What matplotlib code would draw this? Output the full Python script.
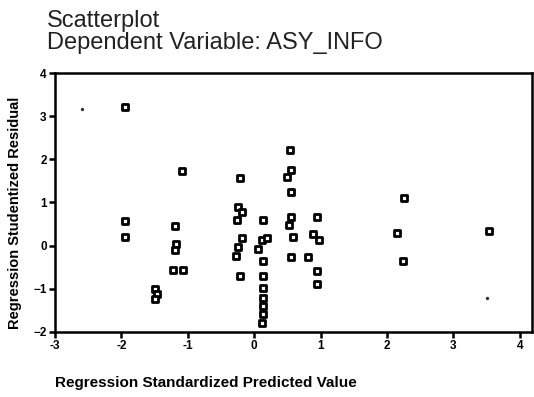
import numpy as np
import matplotlib
matplotlib.use("Agg")
import matplotlib.pyplot as plt

# standardized predicted value vs studentized residual
pred_x = [-1.95, -1.95, -1.95,
          -1.09, -1.19, -1.18, -1.20, -1.22, -1.07,
          -1.49, -1.46, -1.49,
          -0.21, -0.24, -0.18, -0.26, -0.18, -0.24, -0.28, -0.21,
          0.13, 0.12, 0.05, 0.19, 0.13, 0.13, 0.13, 0.13, 0.13, 0.13, 0.12,
          0.54, 0.55, 0.49, 0.55, 0.55, 0.53, 0.59, 0.56,
          0.95, 0.89, 0.97, 0.81, 0.95, 0.95,
          2.26, 2.15, 2.24,
          3.54]
resid_y = [3.21, 0.57, 0.21,
           1.73, 0.45, 0.03, -0.11, -0.56, -0.56,
           -1.00, -1.12, -1.23,
           1.57, 0.89, 0.78, 0.59, 0.17, -0.04, -0.23, -0.70,
           0.59, 0.12, -0.07, 0.17, -0.35, -0.70, -0.98, -1.21, -1.40, -1.58, -1.79,
           2.22, 1.76, 1.60, 1.24, 0.66, 0.47, 0.19, -0.27,
           0.66, 0.28, 0.12, -0.27, -0.58, -0.88,
           1.10, 0.29, -0.35,
           0.33]
# tiny stray marks
small_x = [-2.59, 3.51]
small_y = [3.16, -1.21]

x_ticks = [-3, -2, -1, 0, 1, 2, 3, 4]
x_labels = ["-3", "-2", "-1", "0", "1", "2", "3", "4"]
y_ticks = [-2, -1, 0, 1, 2, 3, 4]

plt.rcParams['font.family'] = ['Liberation Sans', 'DejaVu Sans']

fig = plt.figure(figsize=(5.34, 3.97), dpi=100)
ax = fig.add_axes([0.103, 0.164, 0.893, 0.652])

ax.scatter(pred_x, resid_y, marker='s', s=16, facecolor='white',
           edgecolor='black', linewidth=2.0, zorder=3)
ax.scatter(small_x, small_y, marker='.', s=8, color='#333333', zorder=3)

ax.set_xlim(-3, 4.18)
ax.set_ylim(-2, 4)
ax.set_xticks(x_ticks)
ax.set_xticklabels(x_labels)
ax.set_yticks(y_ticks)
ax.tick_params(direction='out', length=4, width=1.8, labelsize=8.5, pad=2)
for lab in ax.get_xticklabels() + ax.get_yticklabels():
    lab.set_fontweight('bold')
for sp in ax.spines.values():
    sp.set_linewidth(1.8)

ax.set_xlabel("Regression Standardized Predicted Value", fontsize=11,
              fontweight='bold')
ax.xaxis.set_label_coords(0.0, -0.17)
ax.xaxis.label.set_horizontalalignment('left')
ax.set_ylabel("Regression Studentized Residual", fontsize=10.5, fontweight='bold')
ax.yaxis.set_label_coords(-0.07, 0.46)

fig.text(0.088, 0.932, "Scatterplot", fontsize=17, color='#222222',
         va='baseline')
fig.text(0.088, 0.877, "Dependent Variable: ASY_INFO", fontsize=17,
         color='#222222', va='baseline')

fig.savefig("out.png", dpi=100)
